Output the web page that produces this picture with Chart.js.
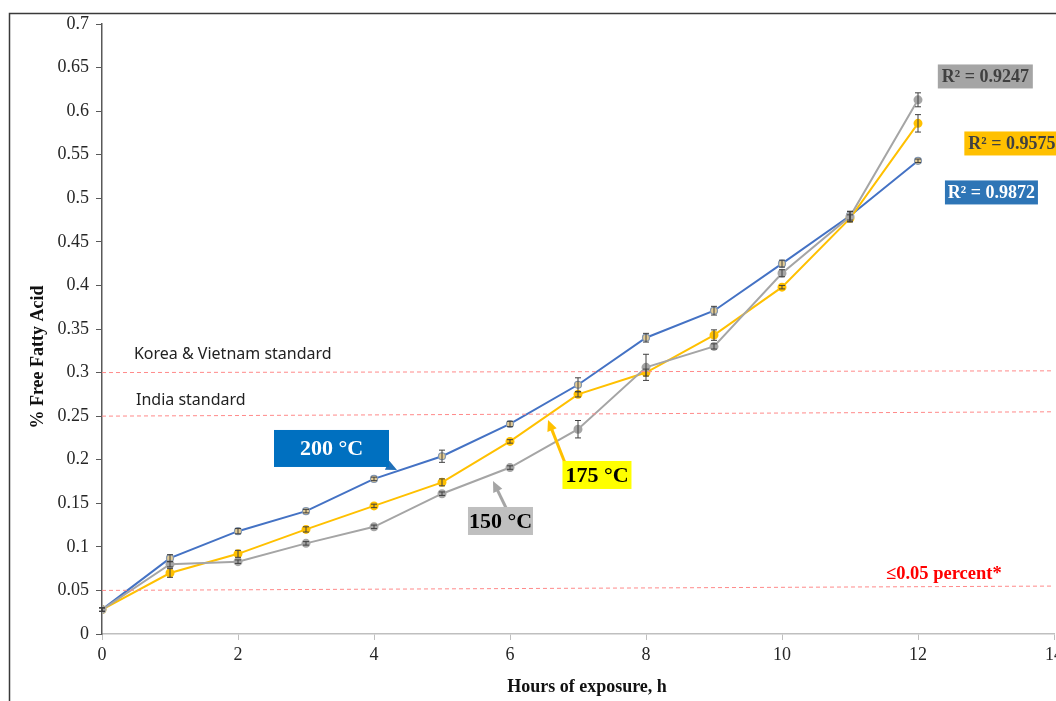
<!DOCTYPE html>
<html>
<head>
<meta charset="utf-8">
<script src="https://cdn.jsdelivr.net/npm/chart.js@4.4.1/dist/chart.umd.min.js"></script>
<style>
  html, body { margin: 0; padding: 0; overflow: hidden; background: #fff; }
  #wrap { width: 1070px; height: 701px; position: relative; }
</style>
</head>
<body>
<div id="wrap"><canvas id="ffaChart"></canvas></div>
<script>
// hours of exposure
const hours = [0, 1, 2, 3, 4, 5, 6, 7, 8, 9, 10, 11, 12];

// % free fatty acid per frying temperature
const ffa200 = [0.028, 0.087, 0.118, 0.141, 0.178, 0.204, 0.241, 0.286, 0.340, 0.371, 0.425, 0.480, 0.543];
const ffa175 = [0.028, 0.070, 0.092, 0.120, 0.147, 0.174, 0.221, 0.275, 0.300, 0.343, 0.398, 0.477, 0.586];
const ffa150 = [0.028, 0.080, 0.083, 0.104, 0.123, 0.161, 0.191, 0.235, 0.306, 0.330, 0.414, 0.479, 0.613];

// error bars (+/-)
const err200 = [0.002, 0.004, 0.003, 0.002, 0.002, 0.007, 0.003, 0.008, 0.005, 0.005, 0.004, 0.005, 0.002];
const err175 = [0.002, 0.005, 0.004, 0.003, 0.002, 0.004, 0.002, 0.003, 0.004, 0.006, 0.002, 0.004, 0.010];
const err150 = [0.002, 0.003, 0.002, 0.002, 0.002, 0.002, 0.002, 0.010, 0.015, 0.003, 0.004, 0.006, 0.008];

// standard lines (start / end at x = 0 and x = 14)
const standardX = [0, 14];
const stdKorea = [0.300, 0.302];
const stdIndia = [0.250, 0.255];
const stdLimit = [0.050, 0.055];

// tick labels
const xTicks = [0, 2, 4, 6, 8, 10, 12, 14];
const yTicks = [0, 0.05, 0.1, 0.15, 0.2, 0.25, 0.3, 0.35, 0.4, 0.45, 0.5, 0.55, 0.6, 0.65, 0.7];

// R² values
const r2Labels = ['R² = 0.9247', 'R² = 0.9575', 'R² = 0.9872'];

const SERIF = '"Liberation Serif", "Times New Roman", serif';

function pts(ys) { return hours.map((h, i) => ({ x: h, y: ys[i] })); }
function line2(ys) { return standardX.map((x, i) => ({ x: x, y: ys[i] })); }

const errorBars = {
  id: 'errorBars',
  afterDatasetsDraw(chart) {
    const { ctx, scales: { x, y } } = chart;
    const sets = [[ffa200, err200], [ffa175, err175], [ffa150, err150]];
    ctx.save();
    ctx.strokeStyle = '#404040';
    ctx.lineWidth = 1;
    sets.forEach(([vals, errs]) => {
      vals.forEach((v, i) => {
        const px = x.getPixelForValue(hours[i]);
        const top = y.getPixelForValue(v + errs[i]);
        const bot = y.getPixelForValue(v - errs[i]);
        ctx.beginPath();
        ctx.moveTo(px, top); ctx.lineTo(px, bot);
        ctx.moveTo(px - 3, top); ctx.lineTo(px + 3, top);
        ctx.moveTo(px - 3, bot); ctx.lineTo(px + 3, bot);
        ctx.stroke();
      });
    });
    ctx.restore();
  }
};

function arrow(ctx, x1, y1, x2, y2, color) {
  const ang = Math.atan2(y2 - y1, x2 - x1);
  const hl = 11, hw = 5;
  ctx.save();
  ctx.strokeStyle = color; ctx.fillStyle = color; ctx.lineWidth = 3;
  ctx.beginPath();
  ctx.moveTo(x1, y1);
  ctx.lineTo(x2 - Math.cos(ang) * hl * 0.8, y2 - Math.sin(ang) * hl * 0.8);
  ctx.stroke();
  ctx.beginPath();
  ctx.moveTo(x2, y2);
  ctx.lineTo(x2 - Math.cos(ang) * hl + Math.sin(ang) * hw, y2 - Math.sin(ang) * hl - Math.cos(ang) * hw);
  ctx.lineTo(x2 - Math.cos(ang) * hl - Math.sin(ang) * hw, y2 - Math.sin(ang) * hl + Math.cos(ang) * hw);
  ctx.closePath();
  ctx.fill();
  ctx.restore();
}

function box(ctx, cx, cy, w, h, fill, text, color, font) {
  ctx.save();
  ctx.fillStyle = fill;
  ctx.fillRect(cx - w / 2, cy - h / 2, w, h);
  ctx.fillStyle = color;
  ctx.font = font;
  ctx.textAlign = 'center';
  ctx.textBaseline = 'middle';
  ctx.fillText(text, cx, cy + 1);
  ctx.restore();
}

const annotations = {
  id: 'annotations',
  beforeDraw(chart) {
    const ctx = chart.ctx;
    ctx.save();
    ctx.fillStyle = '#fff';
    ctx.fillRect(0, 0, chart.width, chart.height);
    ctx.strokeStyle = '#3a3a3a';
    ctx.lineWidth = 1.5;
    ctx.strokeRect(9.5, 13.5, 1300, 900);
    ctx.restore();
  },
  afterDraw(chart) {
    // axis titles
    const ctx = chart.ctx;
    ctx.save();
    ctx.fillStyle = '#111';
    ctx.font = 'bold 18px ' + SERIF;
    ctx.textAlign = 'center';
    ctx.textBaseline = 'middle';
    ctx.fillText('Hours of exposure, h', 587, 687);
    ctx.translate(38, 357);
    ctx.rotate(-Math.PI / 2);
    ctx.fillText('% Free Fatty Acid', 0, 0);
    ctx.restore();
  },
  afterDatasetsDraw(chart) {
    const { ctx, scales: { x, y } } = chart;
    const P = (a, b) => [x.getPixelForValue(a), y.getPixelForValue(b)];
    const big = 'bold 22px ' + SERIF;
    const mid = 'bold 18px ' + SERIF;

    // standard captions
    ctx.save();
    ctx.font = '16px "Noto Sans", sans-serif';
    ctx.fillStyle = '#222';
    ctx.textBaseline = 'middle';
    let p = P(0.47, 0.3213); ctx.fillText('Korea & Vietnam standard', p[0], p[1]);
    p = P(0.50, 0.2685); ctx.fillText('India standard', p[0], p[1]);
    ctx.fillStyle = '#FF0000';
    ctx.font = 'bold 18.5px ' + SERIF;
    p = P(11.53, 0.0689); ctx.fillText('≤0.05 percent*', p[0], p[1]);
    ctx.restore();

    // temperature callouts
    let a = P(3.824, 0.2077), b = P(4.338, 0.1882);
    arrow(ctx, a[0], a[1], b[0], b[1], '#1F6FB8');
    p = P(3.375, 0.2129); box(ctx, p[0], p[1], 115, 37, '#0070C0', '200 °C', '#fff', big);

    a = P(6.809, 0.1962); b = P(6.559, 0.2456);
    arrow(ctx, a[0], a[1], b[0], b[1], '#FFC000');
    p = P(7.279, 0.1825); box(ctx, p[0], p[1], 69, 28, '#FFFF00', '175 °C', '#000', big);

    a = P(5.971, 0.140); b = P(5.750, 0.1756);
    arrow(ctx, a[0], a[1], b[0], b[1], '#A5A5A5');
    p = P(5.860, 0.1297); box(ctx, p[0], p[1], 65, 28, '#BFBFBF', '150 °C', '#000', big);

    // R² boxes
    p = P(12.99, 0.6398); box(ctx, p[0], p[1], 95, 24, '#A5A5A5', r2Labels[0], '#404040', mid);
    p = P(13.38, 0.5629); box(ctx, p[0], p[1], 95, 24, '#FFC000', r2Labels[1], '#404040', mid);
    p = P(13.08, 0.5067); box(ctx, p[0], p[1], 93, 24, '#2E75B6', r2Labels[2], '#fff', mid);
  }
};

const stdStyle = {
  borderColor: '#FF8A8A', borderWidth: 1, borderDash: [4, 3],
  pointRadius: 0, fill: false, tension: 0
};

new Chart(document.getElementById('ffaChart'), {
  type: 'line',
  data: {
    datasets: [
      Object.assign({ label: 'Korea & Vietnam standard', data: line2(stdKorea) }, stdStyle),
      Object.assign({ label: 'India standard', data: line2(stdIndia) }, stdStyle),
      Object.assign({ label: '≤0.05 percent*', data: line2(stdLimit) }, stdStyle),
      {
        label: '150 °C', data: pts(ffa150),
        borderColor: '#A5A5A5', backgroundColor: '#A5A5A5',
        pointBackgroundColor: '#A5A5A5', pointBorderColor: '#A5A5A5',
        borderWidth: 2, pointRadius: 3.5, tension: 0
      },
      {
        label: '175 °C', data: pts(ffa175),
        borderColor: '#FFC000', backgroundColor: '#FFC000',
        pointBackgroundColor: '#FFC000', pointBorderColor: '#FFC000',
        borderWidth: 2, pointRadius: 3.5, tension: 0
      },
      {
        label: '200 °C', data: pts(ffa200),
        borderColor: '#4472C4', backgroundColor: '#4472C4',
        pointBackgroundColor: '#E3CB93', pointBorderColor: '#8497B0',
        pointBorderWidth: 1.2, borderWidth: 2, pointRadius: 3.5, tension: 0
      }
    ]
  },
  options: {
    responsive: true,
    maintainAspectRatio: false,
    animation: false,
    layout: { padding: { top: 24, right: 16, left: 0, bottom: 0 } },
    plugins: {
      legend: { display: false },
      tooltip: { enabled: false }
    },
    scales: {
      x: {
        type: 'linear', min: 0, max: 14,
        afterBuildTicks: s => { s.ticks = xTicks.map(v => ({ value: v })); },
        afterFit: s => { s.height = 67; },
        grid: { drawOnChartArea: false, drawTicks: true, tickLength: 6, color: '#BFBFBF' },
        border: { color: '#BFBFBF', width: 1.5 },
        ticks: { font: { family: SERIF, size: 18 }, color: '#262626', padding: 4, maxRotation: 0 },
        title: { display: false }
      },
      y: {
        min: 0, max: 0.7,
        afterBuildTicks: s => { s.ticks = yTicks.map(v => ({ value: v })); },
        afterFit: s => { s.width = 102; },
        grid: { drawOnChartArea: false, drawTicks: true, tickLength: 6, color: '#595959' },
        border: { color: '#595959', width: 1.5 },
        ticks: {
          font: { family: SERIF, size: 18 }, color: '#262626', padding: 7,
          callback: v => String(parseFloat(v.toFixed(2)))
        },
        title: { display: false }
      }
    }
  },
  plugins: [errorBars, annotations]
});
</script>
</body>
</html>
